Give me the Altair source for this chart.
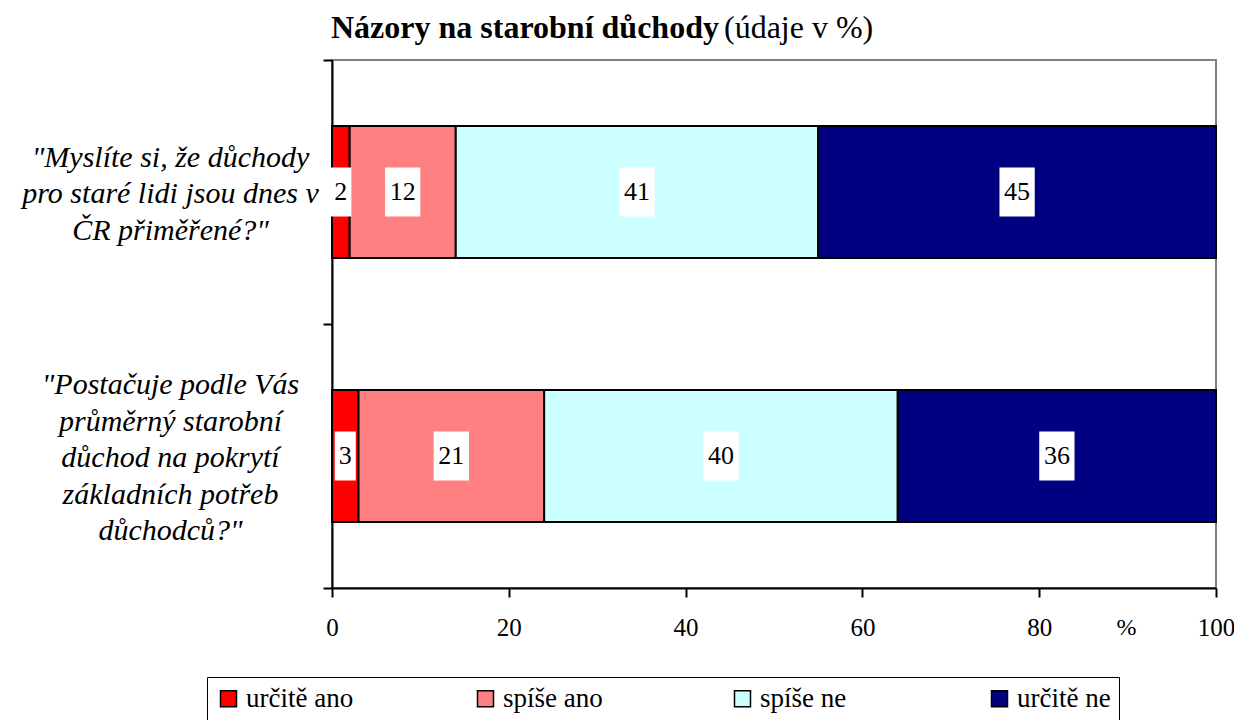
import altair as alt
import pandas as pd

questions = [
    '"Myslíte si, že důchody|pro staré lidi jsou dnes v|ČR přiměřené?"',
    '"Postačuje podle Vás|průměrný starobní|důchod na pokrytí|základních potřeb|důchodců?"',
]
categories = ["určitě ano", "spíše ano", "spíše ne", "určitě ne"]
colors = ["#FF0000", "#FF8080", "#CCFFFF", "#000080"]
values_q1 = [2, 12, 41, 45]
values_q2 = [3, 21, 40, 36]
x_ticks = [0, 20, 40, 60, 80, 100]
title_bold = "Názory na starobní důchody"
title_rest = "(údaje v %)"

rows = []
for q, vals in zip(questions, [values_q1, values_q2]):
    for i, (c, v) in enumerate(zip(categories, vals)):
        rows.append({"question": q, "category": c, "order": i, "value": v})
df = pd.DataFrame(rows)

FONT = "serif"

box1 = "M-0.43,-1L0.43,-1L0.43,1L-0.43,1Z"
box2 = "M-0.72,-1L0.72,-1L0.72,1L-0.72,1Z"

base = alt.Chart(df).transform_stack(
    stack="value", groupby=["question"], as_=["x0", "x1"],
    sort=[alt.SortField("order", order="ascending")]
).transform_calculate(
    mid="(datum.x0 + datum.x1) / 2",
    digits="length(toString(datum.value)) > 1 ? 'two' : 'one'"
)

yscale = alt.Scale(paddingInner=0, paddingOuter=0)

# a leading blank line for the 3-line label keeps both label blocks centred on their bars
label_expr = "split((indexof(datum.label, 'Myslíte') >= 0 ? '\u00a0|' : '') + datum.label, '|')"

yenc = alt.Y(
    "question:N", sort=questions, title=None, scale=yscale,
    axis=alt.Axis(
        labelExpr=label_expr,
        tickBand="extent", tickSize=9, tickWidth=2, tickColor="black",
        domainColor="black", domainWidth=2,
        labelFont=FONT, labelFontStyle="italic", labelFontSize=30,
        labelColor="black", labelAlign="center", labelBaseline="middle",
        labelLineHeight=36.5, labelLimit=0, labelPadding=153,
        labelOffset=-71.5,
    ),
)

bars = base.mark_bar(stroke="black", strokeWidth=2, height=alt.RelativeBandSize(0.5)).encode(
    x=alt.X(
        "x0:Q", title="%",
        scale=alt.Scale(domain=[0, 100], nice=False),
        axis=alt.Axis(
            values=x_ticks, grid=False, tickSize=9, tickWidth=2,
            tickColor="black", domainColor="black", domainWidth=2,
            labelFont=FONT, labelFontSize=25, labelColor="black",
            labelPadding=18, labelFlush=False,
            titleFont=FONT, titleFontSize=24, titleFontWeight="normal",
            titleColor="black", titleX=794, titleY=46,
            titleBaseline="alphabetic", titleAlign="center",
        ),
    ),
    x2="x1:Q",
    y=yenc,
    color=alt.Color(
        "category:N",
        scale=alt.Scale(domain=categories, range=colors),
        sort=categories,
        legend=alt.Legend(
            title=None, orient="none", legendX=-125, legendY=617,
            direction="horizontal", columns=4, gridAlign="all",
            columnPadding=118, symbolType="square", symbolSize=256,
            symbolStrokeColor="black", symbolStrokeWidth=1.5,
            labelFont=FONT, labelFontSize=27, labelColor="black",
            labelOffset=4, labelLimit=0, padding=8,
            strokeColor="black",
        ),
    ),
)

boxes = base.mark_point(filled=True, fill="white", opacity=1, strokeWidth=0).encode(
    x="mid:Q",
    y=alt.Y("question:N", sort=questions, scale=yscale),
    shape=alt.Shape("digits:N", scale=alt.Scale(domain=["one", "two"], range=[box1, box2]), legend=None),
    size=alt.value(2401),
)

labels = base.mark_text(font=FONT, fontSize=26, color="black", baseline="middle").encode(
    x="mid:Q",
    y=alt.Y("question:N", sort=questions, scale=yscale),
    text="value:Q",
)

tdf = pd.DataFrame({"bold": [title_bold], "rest": [title_rest]})
t_bold = alt.Chart(tdf).mark_text(
    font=FONT, fontSize=32, fontWeight="bold", color="black", align="left", baseline="alphabetic"
).encode(x=alt.value(-1), y=alt.value(-22), text="bold:N")
t_rest = alt.Chart(tdf).mark_text(
    font=FONT, fontSize=32, color="black", align="left", baseline="alphabetic"
).encode(x=alt.value(392), y=alt.value(-22), text="rest:N")

chart = alt.layer(bars, boxes, labels, t_bold, t_rest).properties(
    width=884, height=528,
    autosize=alt.AutoSizeParams(type="none"),
    padding={"left": 324, "top": 52, "right": 18, "bottom": 132},
).configure_view(stroke="#808080", strokeWidth=2)

chart.save("out.html", embed_options={"renderer": "svg", "actions": False})
